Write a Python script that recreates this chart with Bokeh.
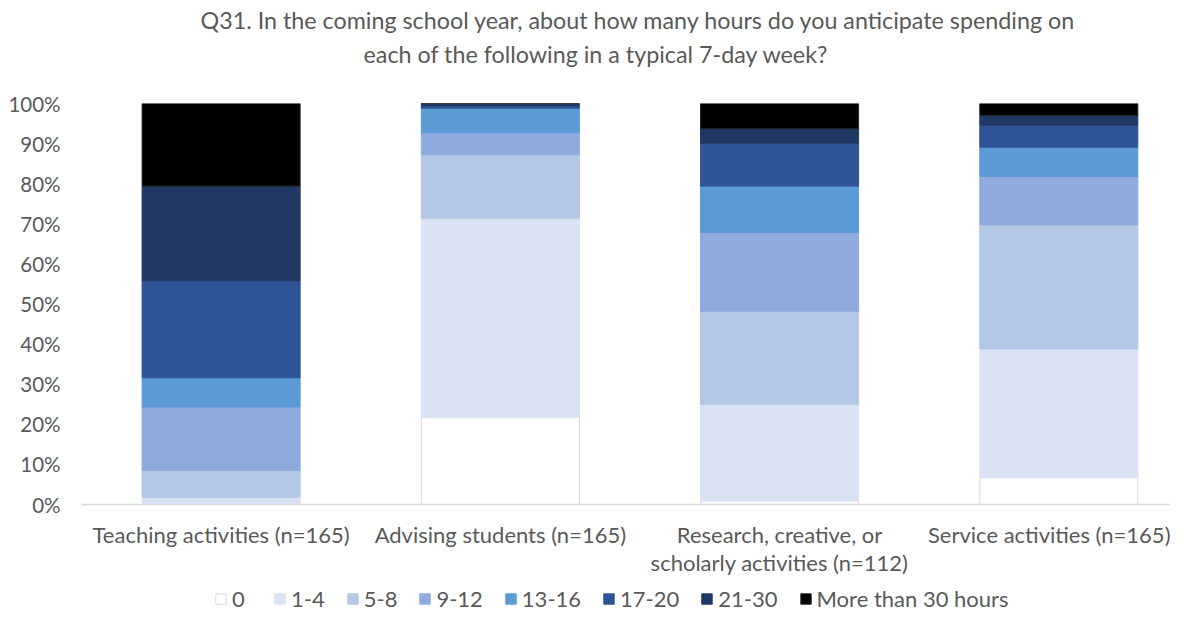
from bokeh.plotting import figure
from bokeh.layouts import column
from bokeh.models import (ColumnDataSource, Range1d, FixedTicker, PrintfTickFormatter,
                          Legend, LegendItem, Title)
from bokeh.embed import file_html
from bokeh.resources import INLINE

categories = ["Teaching activities (n=165)", "Advising students (n=165)",
              "Research, creative, or\nscholarly activities (n=112)", "Service activities (n=165)"]
groups = ["0", "1-4", "5-8", "9-12", "13-16", "17-20", "21-30", "More than 30 hours"]
colors = ["#FFFFFF", "#DAE3F3", "#B4C7E7", "#8FAADC", "#5B9BD5", "#2F5597", "#203864", "#000000"]
line_colors = ["#D9D9D9", "#DAE3F3", "#B4C7E7", "#8FAADC", "#5B9BD5", "#2F5597", "#203864", "#262626"]

# percentages per category, in order of groups
teaching = [0.0, 1.8, 6.7, 15.8, 7.3, 24.2, 23.6, 20.6]
advising = [21.8, 49.6, 15.8, 5.5, 6.1, 0.6, 0.6, 0.0]
research = [0.9, 24.1, 23.2, 19.6, 11.6, 10.7, 3.6, 6.3]
service = [6.7, 32.1, 30.9, 12.1, 7.3, 5.5, 2.4, 3.0]
y_ticks = [0, 10, 20, 30, 40, 50, 60, 70, 80, 90, 100]
title_line1 = "Q31. In the coming school year, about how many hours do you anticipate spending on"
title_line2 = "each of the following in a typical 7-day week?"

rows = [teaching, advising, research, service]
xs = list(range(len(categories)))
data = {"x": xs}
for gi, g in enumerate(groups):
    data[g] = [r[gi] for r in rows]
source = ColumnDataSource(data)

FONT = "Lato"
GRAY = "#595959"
W = 1170

# ---- title strip ----
tf = figure(width=W, height=70, output_backend="svg", toolbar_location=None,
            x_axis_location=None, y_axis_location=None,
            min_border_left=0, min_border_right=0, min_border_bottom=0, min_border_top=68)
tf.title = None
tf.grid.grid_line_color = None
tf.outline_line_color = None
tf.add_layout(Title(text=title_line2, align="left", offset=282, text_font=FONT,
                    text_font_size="23.3px", text_font_style="normal", text_color=GRAY,
                    standoff=3), "above")
tf.add_layout(Title(text=title_line1, align="left", offset=119, text_font=FONT,
                    text_font_size="23.3px", text_font_style="normal", text_color=GRAY,
                    standoff=6), "above")

# ---- main chart ----
p = figure(width=W, height=508, output_backend="svg", toolbar_location=None,
           x_range=Range1d(-0.5, 3.40), y_range=Range1d(0, 100),
           min_border_left=81, min_border_right=0, min_border_top=33, min_border_bottom=74)
p.title = None

bar_width = 0.566
renderers = p.vbar_stack(groups, x="x", width=bar_width, source=source,
                         fill_color=colors, line_color=line_colors, line_width=1)

p.xgrid.grid_line_color = None
p.ygrid.grid_line_color = None
p.outline_line_color = None

p.yaxis.ticker = FixedTicker(ticks=y_ticks)
p.yaxis.formatter = PrintfTickFormatter(format="%d%%")
p.yaxis.axis_line_color = None
p.yaxis.major_tick_line_color = None
p.yaxis.minor_tick_line_color = None
p.yaxis.major_label_text_font = FONT
p.yaxis.major_label_text_font_size = "20.5px"
p.yaxis.major_label_text_color = GRAY
p.yaxis.major_label_standoff = 15

p.xaxis.ticker = FixedTicker(ticks=xs)
p.xaxis.major_label_overrides = {i: c for i, c in zip(xs, categories)}
p.xaxis.axis_line_color = "#D9D9D9"
p.xaxis.axis_line_width = 1.5
p.xaxis.major_tick_line_color = None
p.xaxis.minor_tick_line_color = None
p.xaxis.major_label_text_font = FONT
p.xaxis.major_label_text_font_size = "22px"
p.xaxis.major_label_text_color = GRAY
p.xaxis.major_label_text_line_height = 1.05
p.xaxis.major_label_standoff = 10

# ---- legend strip: hidden copies of the stacked bars feed the legend ----
lf = figure(width=W, height=34, output_backend="svg", toolbar_location=None,
            x_axis_location=None, y_axis_location=None,
            x_range=Range1d(-0.5, 3.40), y_range=Range1d(0, 100), min_border=0)
lf.title = None
lf.grid.grid_line_color = None
lf.outline_line_color = None
lrends = lf.vbar_stack(groups, x="x", width=bar_width, source=source,
                       fill_color=colors, line_color=line_colors, line_width=1)
for r in lrends:
    r.visible = False
items = [LegendItem(label=g, renderers=[r]) for g, r in zip(groups, lrends)]
legend = Legend(items=items, orientation="horizontal", location=(133, 0),
                label_text_font=FONT, label_text_font_size="22px", label_text_color=GRAY,
                glyph_width=13, glyph_height=13, label_standoff=5, spacing=21,
                inactive_fill_alpha=0,
                border_line_color=None, background_fill_alpha=0, margin=0, padding=0)
lf.add_layout(legend, "center")

layout = column(tf, p, lf, spacing=0)
open("out.html", "w").write(file_html(layout, INLINE))
